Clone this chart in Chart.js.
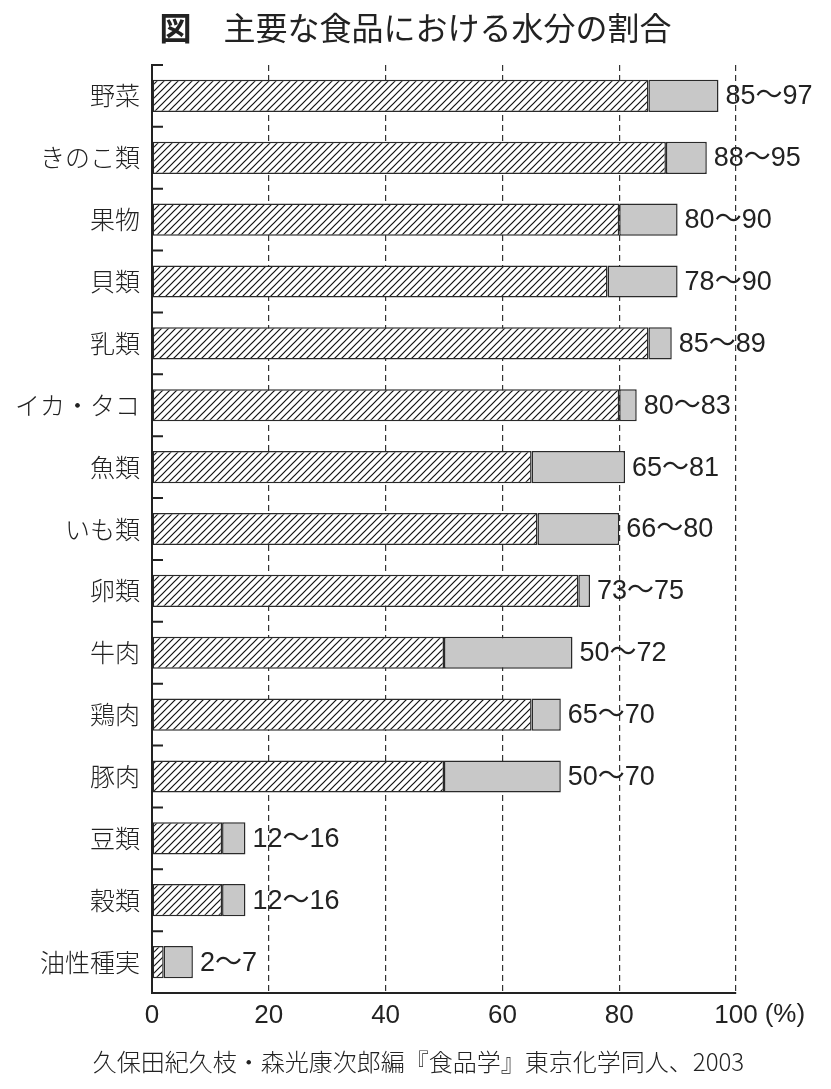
<!DOCTYPE html>
<html lang="ja">
<head>
<meta charset="UTF-8">
<title>主要な食品における水分の割合</title>
<script src="https://cdn.jsdelivr.net/npm/chart.js@4.4.1/dist/chart.umd.min.js"></script>
<style>
  html, body { margin: 0; padding: 0; background: #fff; }
  #wrap { width: 831px; height: 1089px; }
</style>
</head>
<body>
<div id="wrap"><canvas id="waterChart" width="831" height="1089"></canvas></div>
<script>
// Data (water content, %)
const foods = ['野菜', 'きのこ類', '果物', '貝類', '乳類', 'イカ・タコ', '魚類', 'いも類', '卵類', '牛肉', '鶏肉', '豚肉', '豆類', '穀類', '油性種実'];
const waterMin = [85, 88, 80, 78, 85, 80, 65, 66, 73, 50, 65, 50, 12, 12, 2];
const waterMax = [97, 95, 90, 90, 89, 83, 81, 80, 75, 72, 70, 70, 16, 16, 7];
const xTicks = [0, 20, 40, 60, 80, 100];

const titleMark = '図';
const titleText = '主要な食品における水分の割合';
const sourceText = '久保田紀久枝・森光康次郎編『食品学』東京化学同人、2003';

const jpFont = "'Noto Sans CJK JP', sans-serif";
const numFont = "'Liberation Sans', 'Noto Sans CJK JP', sans-serif";

document.addEventListener('DOMContentLoaded', () => {
    const ctx = document.getElementById('waterChart').getContext('2d');

    // diagonal hatch for the lower part of each bar
    function makeHatch() {
        const size = 7;
        const c = document.createElement('canvas');
        c.width = size;
        c.height = size;
        const g = c.getContext('2d');
        g.fillStyle = '#fff';
        g.fillRect(0, 0, size, size);
        g.strokeStyle = '#111';
        g.lineWidth = 1.2;
        g.beginPath();
        g.moveTo(0, size); g.lineTo(size, 0);
        g.moveTo(-1, 1); g.lineTo(1, -1);
        g.moveTo(size - 1, size + 1); g.lineTo(size + 1, size - 1);
        g.stroke();
        return ctx.createPattern(c, 'repeat');
    }

    // title, inward ticks on the category axis, labels at bar ends, "(%)" and source line
    const extras = {
        id: 'extras',
        afterDraw(chart) {
            const c = chart.ctx;
            const yScale = chart.scales.y;
            const xScale = chart.scales.x;
            const area = chart.chartArea;
            const n = foods.length;
            const step = (yScale.bottom - yScale.top) / n;

            c.save();
            c.fillStyle = '#222';
            c.textBaseline = 'middle';

            // title: bold mark, then regular text
            c.textAlign = 'left';
            c.font = '700 32px ' + jpFont;
            const markW = c.measureText(titleMark + '　').width;
            c.font = '400 32px ' + jpFont;
            const textW = c.measureText(titleText).width;
            const tx = (chart.width - markW - textW) / 2;
            c.font = '700 32px ' + jpFont;
            c.fillText(titleMark, tx, 28);
            c.font = '400 32px ' + jpFont;
            c.fillText(titleText, tx + markW, 28);

            c.strokeStyle = '#222';
            c.lineWidth = 2;
            c.beginPath();
            for (let i = 0; i < n; i++) {
                const y = yScale.top + i * step;
                c.moveTo(area.left, y);
                c.lineTo(area.left + 11, y);
            }
            c.stroke();

            // range labels
            const meta = chart.getDatasetMeta(1);
            c.font = '27px ' + numFont;
            meta.data.forEach((bar, i) => {
                c.fillText(waterMin[i] + '〜' + waterMax[i], bar.x + 7, bar.y + 1);
            });

            // unit after the 100 tick
            c.font = '26px ' + numFont;
            const x100 = xScale.getPixelForValue(100);
            const w100 = c.measureText('100').width;
            c.fillText('(%)', x100 + w100 / 2 + 7, area.bottom + 22);

            // source
            c.font = '300 24px ' + jpFont;
            c.textAlign = 'center';
            c.fillText(sourceText, chart.width / 2 + 3, 1062);
            c.restore();
        }
    };

    const chart = new Chart(ctx, {
        type: 'bar',
        data: {
            labels: foods,
            datasets: [
                {
                    data: waterMin,
                    backgroundColor: makeHatch(),
                    borderColor: '#2a2a2a',
                    borderWidth: 1.5,
                    borderSkipped: false
                },
                {
                    data: waterMax.map((v, i) => v - waterMin[i]),
                    backgroundColor: '#c8c8c8',
                    borderColor: '#2a2a2a',
                    borderWidth: 1.5,
                    borderSkipped: false
                }
            ]
        },
        options: {
            indexAxis: 'y',
            responsive: false,
            animation: false,
            barPercentage: 0.52,
            categoryPercentage: 1,
            layout: { padding: { left: 0, right: 95, top: 65, bottom: 60 } },
            plugins: {
                legend: { display: false },
                tooltip: { enabled: false },
                title: { display: false }
            },
            scales: {
                x: {
                    stacked: true,
                    min: 0,
                    max: 100,
                    afterBuildTicks: scale => { scale.ticks = xTicks.map(v => ({ value: v })); },
                    afterFit: scale => { scale.height = 36; },
                    grid: {
                        color: c => (c.tick && c.tick.value === 0) ? 'rgba(0,0,0,0)' : '#333',
                        lineWidth: 1.2,
                        drawTicks: false
                    },
                    border: { display: true, color: '#222', width: 2, dash: [6, 4] },
                    ticks: {
                        color: '#222',
                        padding: 7,
                        font: { family: numFont, size: 26 },
                        maxRotation: 0
                    }
                },
                y: {
                    stacked: true,
                    afterFit: scale => { scale.width = 152; },
                    grid: { drawOnChartArea: false, drawTicks: false },
                    border: { display: true, color: '#222', width: 2 },
                    ticks: {
                        color: '#222',
                        padding: 12,
                        font: { family: jpFont, size: 25, weight: '300' }
                    }
                }
            }
        },
        plugins: [extras]
    });
});
</script>
</body>
</html>
